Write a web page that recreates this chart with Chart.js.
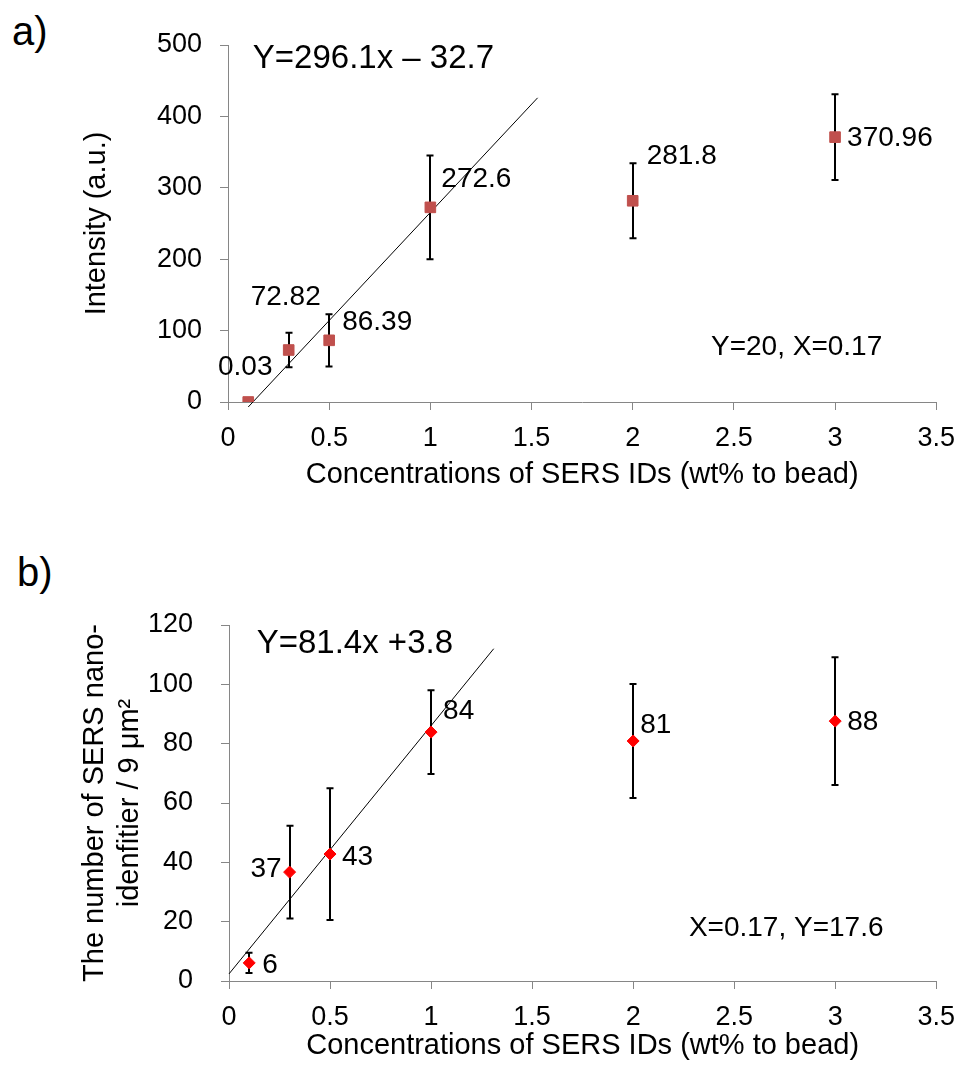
<!DOCTYPE html>
<html>
<head>
<meta charset="utf-8">
<script src="https://cdn.jsdelivr.net/npm/chart.js@4.4.0/dist/chart.umd.min.js"></script>
<style>
    body { margin: 0; background: #fff; width: 967px; height: 1066px; position: relative; overflow: hidden; font-family: 'Liberation Sans', Arial, sans-serif; }
    .panel { position: absolute; left: 0; }
    .tag { position: absolute; font-size: 40px; color: #000; }
</style>
</head>
<body>
<div class="tag" style="left:12px; top:9px;">a)</div>
<div class="tag" style="left:17px; top:550px;">b)</div>
<canvas id="chartA" class="panel" style="top:0;" width="967" height="490"></canvas>
<canvas id="chartB" class="panel" style="top:490px;" width="967" height="576"></canvas>
<script>
// Ortak x ekseni
const xTickValues = [0, 0.5, 1, 1.5, 2, 2.5, 3, 3.5];
const concentrations = [0.1, 0.3, 0.5, 1, 2, 3];

// a) Intensity
const intensityValues = [0.03, 72.82, 86.39, 272.6, 281.8, 370.96];
const intensityErrors = [0, 24, 36.5, 72.5, 52.5, 60];
const intensityLabels = ['0.03', '72.82', '86.39', '272.6', '281.8', '370.96'];
const intensityTicks = [0, 100, 200, 300, 400, 500];
const intensityFitX = [0.1, 1.53];
const intensityFitY = [-7, 426];

// b) Number of SERS IDs
const countValues = [6.1, 36.7, 42.8, 83.9, 80.9, 87.6];
const countErrors = [3.4, 15.6, 22.2, 14.1, 19.2, 21.5];
const countLabels = ['6', '37', '43', '84', '81', '88'];
const countTicks = [0, 20, 40, 60, 80, 100, 120];
const countFitX = [0, 1.31];
const countFitY = [2.4, 112];

const FONT = "'Liberation Sans', Arial, sans-serif";
const AXIS_GREY = '#868686';

Chart.defaults.font.family = FONT;
Chart.defaults.color = '#000';

function buildChart(canvasId, s) {
    const ctx = document.getElementById(canvasId).getContext('2d');
    const points = concentrations.map((x, i) => ({ x: x, y: s.values[i] }));
    const fitLine = s.fitX.map((x, i) => ({ x: x, y: s.fitY[i] }));

    // hata çubukları - noktaların altında
    const errorBars = {
        id: 'errorBars',
        beforeDatasetsDraw(chart) {
            const { ctx, scales: { x, y } } = chart;
            ctx.save();
            ctx.strokeStyle = '#000';
            ctx.lineWidth = 2;
            s.values.forEach((v, i) => {
                const e = s.errors[i];
                if (!e) return;
                const px = Math.round(x.getPixelForValue(concentrations[i]));
                const top = y.getPixelForValue(v + e);
                const bot = y.getPixelForValue(v - e);
                ctx.beginPath();
                ctx.moveTo(px, top); ctx.lineTo(px, bot);
                ctx.moveTo(px - 3.5, top); ctx.lineTo(px + 3.5, top);
                ctx.moveTo(px - 3.5, bot); ctx.lineTo(px + 3.5, bot);
                ctx.stroke();
            });
            ctx.restore();
        }
    };

    // veri etiketleri ve denklem yazıları
    const textLayer = {
        id: 'textLayer',
        afterDatasetsDraw(chart) {
            const { ctx, scales: { x, y } } = chart;
            const meta = chart.getDatasetMeta(0);
            ctx.save();
            ctx.fillStyle = '#000';
            ctx.textBaseline = 'middle';
            ctx.font = '28px ' + FONT;
            s.labels.forEach((txt, i) => {
                const p = meta.data[i];
                const [dx, dy, align] = s.labelOffsets[i];
                ctx.textAlign = align;
                ctx.fillText(txt, p.x + dx, p.y + dy);
            });
            ctx.textAlign = 'left';
            s.notes.forEach(n => {
                ctx.font = n.size + 'px ' + FONT;
                ctx.fillText(n.text, x.getPixelForValue(n.x), y.getPixelForValue(n.y));
            });
            ctx.restore();
        }
    };

    return new Chart(ctx, {
        type: 'scatter',
        data: {
            datasets: [{
                data: points,
                pointStyle: s.pointStyle,
                pointRadius: s.pointRadius,
                pointBorderWidth: 1,
                backgroundColor: s.color,
                borderColor: s.color
            }, {
                type: 'line',
                data: fitLine,
                borderColor: '#000',
                borderWidth: 1,
                pointRadius: 0,
                fill: false,
                clip: false
            }]
        },
        options: {
            responsive: false,
            animation: false,
            devicePixelRatio: 1,
            layout: { autoPadding: false, padding: { top: s.padTop, right: 25, left: 0, bottom: 0 } },
            plugins: { legend: { display: false }, tooltip: { enabled: false } },
            scales: {
                x: {
                    type: 'linear', min: 0, max: 3.5,
                    afterBuildTicks: sc => { sc.ticks = xTickValues.map(v => ({ value: v })); },
                    afterFit: sc => { sc.height = s.xAxisHeight; },
                    border: { color: AXIS_GREY, width: 1 },
                    grid: { drawOnChartArea: false, drawTicks: true, tickLength: 8, color: AXIS_GREY },
                    ticks: { font: { size: 27 }, padding: 12, maxRotation: 0, callback: v => String(v) },
                    title: {
                        display: true,
                        text: 'Concentrations of SERS IDs (wt% to bead)',
                        font: { size: 29 },
                        padding: { top: 0, bottom: s.xTitlePad }
                    }
                },
                y: {
                    type: 'linear', min: 0, max: s.yMax,
                    afterBuildTicks: sc => { sc.ticks = s.yTicks.map(v => ({ value: v })); },
                    afterFit: sc => { sc.width = s.yAxisWidth; },
                    border: { color: AXIS_GREY, width: 1 },
                    grid: { drawOnChartArea: false, drawTicks: true, tickLength: 8, color: AXIS_GREY },
                    ticks: { font: { size: 27 }, padding: s.yTickPad, callback: v => String(v) },
                    title: {
                        display: true,
                        text: s.yTitle,
                        font: { size: 29 },
                        padding: { top: s.yTitlePad, bottom: 0 }
                    }
                }
            }
        },
        plugins: [errorBars, textLayer]
    });
}

buildChart('chartA', {
    values: intensityValues,
    errors: intensityErrors,
    labels: intensityLabels,
    yTicks: intensityTicks,
    fitX: intensityFitX,
    fitY: intensityFitY,
    yMax: 500,
    yTitle: 'Intensity (a.u.)',
    color: '#C0504D',
    pointStyle: 'rect',
    pointRadius: 7.5,
    padTop: 45,
    xAxisHeight: 88,
    yAxisWidth: 228,
    xTitlePad: -2,
    yTitlePad: 80,
    yTickPad: 18,
    labelOffsets: [[-3, -35, 'center'], [-3, -53, 'center'], [13, -18, 'left'], [11, -28, 'left'], [14, -45, 'left'], [12, 1, 'left']],
    notes: [
        { text: 'Y=296.1x \u2013 32.7', x: 0.1225, y: 480, size: 33 },
        { text: 'Y=20, X=0.17', x: 2.387, y: 77, size: 28 }
    ]
});

buildChart('chartB', {
    values: countValues,
    errors: countErrors,
    labels: countLabels,
    yTicks: countTicks,
    fitX: countFitX,
    fitY: countFitY,
    yMax: 120,
    yTitle: ['The number of SERS nano-', 'idenfitier / 9 \u03bcm\u00b2'],
    color: '#FF0000',
    pointStyle: 'rectRot',
    pointRadius: 6,
    padTop: 135,
    xAxisHeight: 85,
    yAxisWidth: 229,
    xTitlePad: 3,
    yTitlePad: 78,
    yTickPad: 28,
    labelOffsets: [[13, 2, 'left'], [-8, -3, 'right'], [12, 3, 'left'], [12, -21, 'left'], [7, -16, 'left'], [12, 1, 'left']],
    notes: [
        { text: 'Y=81.4x +3.8', x: 0.137, y: 113.6, size: 33 },
        { text: 'X=0.17, Y=17.6', x: 2.276, y: 17.9, size: 28 }
    ]
});
</script>
</body>
</html>
